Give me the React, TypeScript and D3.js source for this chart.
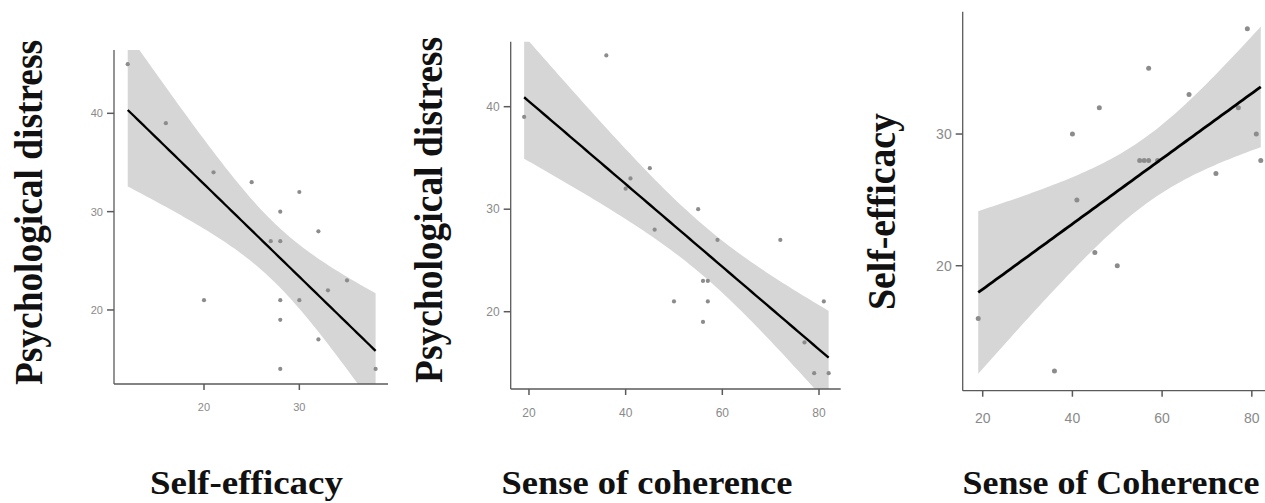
import React from "react";
import * as d3 from "d3";

// ---- data ----
const seX1 = [12, 16, 21, 25, 30, 28, 32, 27, 28, 35, 33, 20, 28, 30, 28, 32, 28, 38];
const pdY1 = [45, 39, 34, 33, 32, 30, 28, 27, 27, 23, 22, 21, 21, 21, 19, 17, 14, 14];
const socX2 = [19, 36, 40, 41, 45, 46, 55, 59, 72, 50, 56, 57, 57, 56, 81, 77, 79, 82];
const pdY2 = [39, 45, 32, 33, 34, 28, 30, 27, 27, 21, 23, 23, 21, 19, 21, 17, 14, 14];
const socX3 = [19, 36, 40, 41, 46, 45, 50, 57, 55, 56, 57, 59, 66, 72, 77, 79, 81, 82];
const seY3 = [16, 12, 30, 25, 32, 21, 20, 35, 28, 28, 28, 28, 33, 27, 32, 38, 30, 28];

const xTicks1 = [20, 30];
const yTicks1 = [20, 30, 40];
const xTicks2 = [20, 40, 60, 80];
const yTicks2 = [20, 30, 40];
const xTicks3 = [20, 40, 60, 80];
const yTicks3 = [20, 30];

const xTitles = ["Self-efficacy", "Sense of coherence", "Sense of Coherence"];
const yTitles = ["Psychological distress", "Psychological distress", "Self-efficacy"];

// ---- layout ----
type PanelCfg = {
  id: string;
  xs: number[];
  ys: number[];
  xDomain: [number, number];
  yDomain: [number, number];
  xRange: [number, number];
  yRange: [number, number];
  xTicks: number[];
  yTicks: number[];
  tickFont: number;
  lineW: number;
  ptR: number;
  xTitle: string;
  yTitle: string;
  xTitleX: number;
  xTitleLen: number;
  yTitleX: number;
  yTitleY: number;
  yTitleLen: number;
  xLabelY: number;
};

const panels: PanelCfg[] = [
  {
    id: "p1", xs: seX1, ys: pdY1,
    xDomain: [10.56, 39.3], yDomain: [12.47, 46.44],
    xRange: [114, 388], yRange: [384, 50],
    xTicks: xTicks1, yTicks: yTicks1, tickFont: 11, lineW: 2.3, ptR: 2.1,
    xTitle: xTitles[0], yTitle: yTitles[0],
    xTitleX: 246.5, xTitleLen: 193, yTitleX: 42, yTitleY: 212.5, yTitleLen: 345, xLabelY: 407,
  },
  {
    id: "p2", xs: socX2, ys: pdY2,
    xDomain: [16.22, 84.49], yDomain: [12.46, 46.34],
    xRange: [510.7, 840.7], yRange: [389, 41.7],
    xTicks: xTicks2, yTicks: yTicks2, tickFont: 12, lineW: 2.4, ptR: 2.1,
    xTitle: xTitles[1], yTitle: yTitles[1],
    xTitleX: 647, xTitleLen: 291, yTitleX: 442, yTitleY: 210, yTitleLen: 346, xLabelY: 413,
  },
  {
    id: "p3", xs: socX3, ys: seY3,
    xDomain: [15.54, 84.5], yDomain: [10.51, 39.29],
    xRange: [962.7, 1272], yRange: [390.7, 11.7],
    xTicks: xTicks3, yTicks: yTicks3, tickFont: 14, lineW: 2.8, ptR: 2.5,
    xTitle: xTitles[2], yTitle: yTitles[2],
    xTitleX: 1111, xTitleLen: 297, yTitleX: 895, yTitleY: 211.5, yTitleLen: 197, xLabelY: 418,
  },
];

// t quantile (0.975) via Cornish-Fisher style expansion
function tQuantile975(df: number) {
  const z = 1.959964;
  const z3 = z ** 3, z5 = z ** 5, z7 = z ** 7;
  return (
    z +
    (z3 + z) / (4 * df) +
    (5 * z5 + 16 * z3 + 3 * z) / (96 * df * df) +
    (3 * z7 + 19 * z5 + 17 * z3 - 15 * z) / (384 * df ** 3)
  );
}

function fitLm(xs: number[], ys: number[]) {
  const n = xs.length;
  const mx = d3.mean(xs)!;
  const my = d3.mean(ys)!;
  let sxx = 0, sxy = 0;
  xs.forEach((x, i) => {
    sxx += (x - mx) ** 2;
    sxy += (x - mx) * (ys[i] - my);
  });
  const b = sxy / sxx;
  const a = my - b * mx;
  let ssr = 0;
  xs.forEach((x, i) => {
    ssr += (ys[i] - (a + b * x)) ** 2;
  });
  const s = Math.sqrt(ssr / (n - 2));
  const t = tQuantile975(n - 2);
  const [x0, x1] = d3.extent(xs) as [number, number];
  const grid = d3.range(80).map((i) => x0 + ((x1 - x0) * i) / 79);
  return grid.map((x) => {
    const fit = a + b * x;
    const se = s * Math.sqrt(1 / n + (x - mx) ** 2 / sxx);
    return { x, fit, lo: fit - t * se, hi: fit + t * se };
  });
}

const axisColor = "#5a5a5a";
const tickTextColor = "#8a8a8a";

function Panel({ c }: { c: PanelCfg }) {
  const x = d3.scaleLinear().domain(c.xDomain).range(c.xRange);
  const y = d3.scaleLinear().domain(c.yDomain).range(c.yRange);
  const fit = fitLm(c.xs, c.ys);
  const area = d3
    .area<{ x: number; lo: number; hi: number }>()
    .x((d) => x(d.x))
    .y0((d) => y(d.lo))
    .y1((d) => y(d.hi));
  const line = d3
    .line<{ x: number; fit: number }>()
    .x((d) => x(d.x))
    .y((d) => y(d.fit));
  const [xl, xr] = c.xRange;
  const [yb, yt] = c.yRange;
  return (
    <g>
      <defs>
        <clipPath id={`clip-${c.id}`}>
          <rect x={xl} y={yt} width={xr - xl} height={yb - yt} />
        </clipPath>
      </defs>
      <g clipPath={`url(#clip-${c.id})`}>
        <path d={area(fit) || ""} fill="#d6d6d6" stroke="none" />
        {c.xs.map((xv, i) => (
          <circle key={i} cx={x(xv)} cy={y(c.ys[i])} r={c.ptR} fill="#8c8c8c" />
        ))}
        <path d={line(fit) || ""} fill="none" stroke="#000" strokeWidth={c.lineW} />
      </g>
      {/* axes */}
      <line x1={xl} x2={xl} y1={yt} y2={yb} stroke={axisColor} strokeWidth={1.3} />
      <line x1={xl} x2={xr} y1={yb} y2={yb} stroke={axisColor} strokeWidth={1.3} />
      {c.yTicks.map((t) => (
        <g key={`y${t}`}>
          <line x1={xl - 7} x2={xl} y1={y(t)} y2={y(t)} stroke={axisColor} strokeWidth={1.5} />
          <text
            x={xl - 11}
            y={y(t)}
            textAnchor="end"
            dominantBaseline="central"
            fontFamily="Liberation Sans, Arial, sans-serif"
            fontSize={c.tickFont}
            fill={tickTextColor}
          >
            {t}
          </text>
        </g>
      ))}
      {c.xTicks.map((t) => (
        <g key={`x${t}`}>
          <line x1={x(t)} x2={x(t)} y1={yb} y2={yb + 6} stroke={axisColor} strokeWidth={1.5} />
          <text
            x={x(t)}
            y={c.xLabelY}
            textAnchor="middle"
            dominantBaseline="central"
            fontFamily="Liberation Sans, Arial, sans-serif"
            fontSize={c.tickFont}
            fill={tickTextColor}
          >
            {t}
          </text>
        </g>
      ))}
      {/* titles */}
      <text
        x={c.xTitleX}
        y={494}
        textAnchor="middle"
        fontFamily="Liberation Serif, Times New Roman, serif"
        fontWeight="bold"
        fontSize={33}
        fill="#111"
        textLength={c.xTitleLen}
        lengthAdjust="spacingAndGlyphs"
      >
        {c.xTitle}
      </text>
      <text
        transform={`translate(${c.yTitleX},${c.yTitleY}) rotate(-90)`}
        x={0}
        y={0}
        textAnchor="middle"
        fontFamily="Liberation Serif, Times New Roman, serif"
        fontWeight="bold"
        fontSize={40}
        fill="#111"
        textLength={c.yTitleLen}
        lengthAdjust="spacingAndGlyphs"
      >
        {c.yTitle}
      </text>
    </g>
  );
}

export default function App() {
  return (
    <svg
      width={1265}
      height={503}
      style={{ position: "absolute", left: 0, top: 0, background: "#fff" }}
    >
      <rect width={1265} height={503} fill="#fff" />
      {panels.map((c) => (
        <Panel key={c.id} c={c} />
      ))}
    </svg>
  );
}
